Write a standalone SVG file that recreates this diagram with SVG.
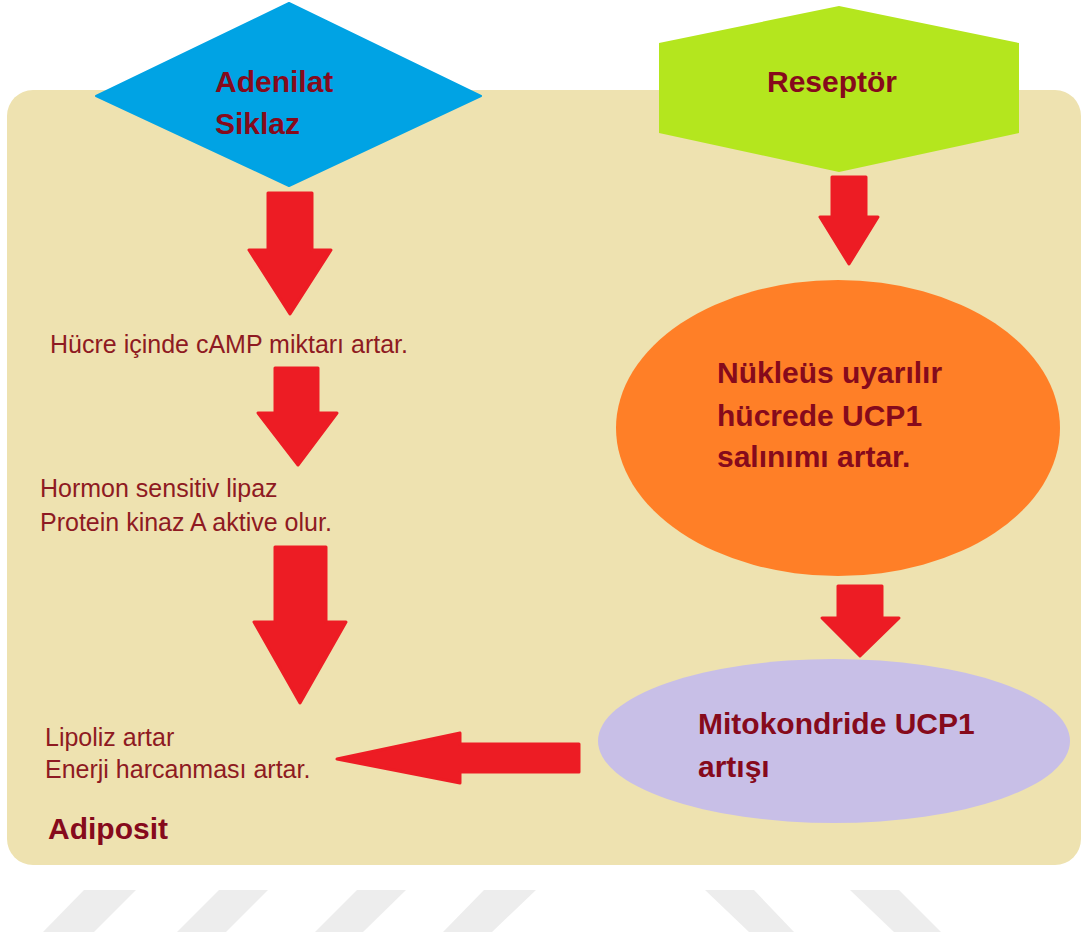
<svg xmlns="http://www.w3.org/2000/svg" width="1081" height="941" viewBox="0 0 1081 941">
<style>
.bold{font-family:"Liberation Sans",Arial,sans-serif;font-weight:bold;font-size:30px;fill:#860A1C}
.reg{font-family:"Liberation Sans",Arial,sans-serif;font-size:25px;fill:#8E1A22}
.arrow{fill:#ED1C24;stroke:#ED1C24;stroke-width:3;stroke-linejoin:round}
.stripe{fill:#EDEDED}
</style>
<rect width="1081" height="941" fill="#FFFFFF"/>
<g id="stripes">
<polygon class="stripe" points="84,890 136,890 94,932 43,932"/>
<polygon class="stripe" points="219,890 268,890 226,932 177,932"/>
<polygon class="stripe" points="357,890 406,890 363,932 315,932"/>
<polygon class="stripe" points="484,890 536,890 492,932 443,932"/>
<polygon class="stripe" points="705,890 754,890 794,932 749,932"/>
<polygon class="stripe" points="850,890 899,890 941,932 894,932"/>
</g>
<g id="adiposit">
<rect x="7" y="90" width="1074" height="775" rx="26" ry="26" fill="#EEE2B0"/>
<text class="bold" x="48" y="839">Adiposit</text>
</g>
<g id="connectors">
<polygon class="arrow" points="268,193 312,193 312,250 331,250 290,314 249,250 268,250"/>
<polygon class="arrow" points="275,368 318,368 318,413 337,413 298,465 258,413 275,413"/>
<polygon class="arrow" points="275,547 326,547 326,622 346,622 300,703 254,622 275,622"/>
<polygon class="arrow" points="832,177 866,177 866,217 878,217 849,264 820,217 832,217"/>
<polygon class="arrow" points="838,586 882,586 882,618 899,618 860,656 822,618 838,618"/>
<polygon class="arrow" points="579,744 579,772 460,772 460,783 337,759 460,733 460,744"/>
</g>
<g id="adenilat-siklaz">
<polygon points="289,3 481,96 289,186 96,96" fill="#00A3E4" stroke="#00A3E4" stroke-width="2" stroke-linejoin="round"/>
<text class="bold" x="215" y="92">Adenilat</text>
<text class="bold" x="215" y="134">Siklaz</text>
</g>
<g id="reseptor">
<polygon points="839,6 1019,43 1019,133 839,172 659,133 659,43" fill="#B4E61E"/>
<text class="bold" x="767" y="92">Reseptör</text>
</g>
<g id="camp">
<text class="reg" x="50" y="353">Hücre içinde cAMP miktarı artar.</text>
</g>
<g id="hsl">
<text class="reg" x="40" y="497">Hormon sensitiv lipaz</text>
<text class="reg" x="40" y="531">Protein kinaz A aktive olur.</text>
</g>
<g id="lipoliz">
<text class="reg" x="45" y="746">Lipoliz artar</text>
<text class="reg" x="45" y="778">Enerji harcanması artar.</text>
</g>
<g id="nukleus">
<ellipse cx="838" cy="428" rx="222" ry="148" fill="#FF7F27"/>
<text class="bold" x="717" y="383">Nükleüs uyarılır</text>
<text class="bold" x="717" y="426">hücrede UCP1</text>
<text class="bold" x="717" y="467">salınımı artar.</text>
</g>
<g id="mitokondri">
<ellipse cx="834" cy="741" rx="236" ry="82" fill="#C8BFE7"/>
<text class="bold" x="698" y="734">Mitokondride UCP1</text>
<text class="bold" x="698" y="777">artışı</text>
</g>
</svg>
